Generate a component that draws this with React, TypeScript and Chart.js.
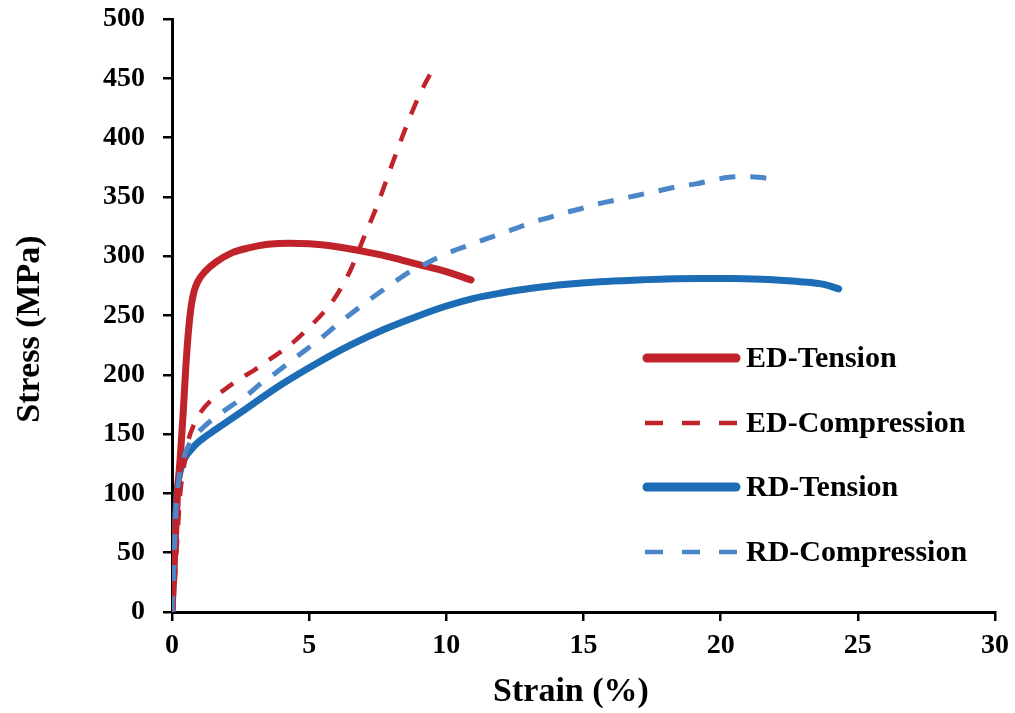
import React, { useEffect, useRef } from 'react';
import { Chart, registerables } from 'chart.js';

Chart.register(...registerables);

const seriesLabels = ['ED-Tension', 'ED-Compression', 'RD-Tension', 'RD-Compression'];

const edTensionStrain = [0, 0.1, 0.2, 0.3, 0.4, 0.5, 0.6, 0.7, 0.8, 0.95, 1.2, 1.6, 2.2, 2.8, 3.5, 4.3, 5.0, 5.7, 6.4, 7.2, 8.0, 8.9, 10.0, 10.9];
const edTensionStress = [0, 50, 100, 130, 165, 205, 237, 258, 270, 279, 287, 295, 303, 307, 310, 311, 310.5, 309, 306.5, 303, 299, 293.5, 287, 280];

const edCompStrain = [0, 0.1, 0.2, 0.3, 0.45, 0.6, 0.8, 1.0, 1.5, 2.0, 2.5, 3.0, 3.5, 4.0, 4.5, 5.0, 5.5, 6.0, 6.5, 7.0, 7.5, 8.0, 8.5, 9.0, 9.56];
const edCompStress = [0, 25, 65, 100, 125, 145, 158, 167, 180, 189, 197, 204, 212, 220, 229, 240, 252, 267, 288, 316, 344, 376, 407, 435, 460];

const rdTensionStrain = [0, 0.05, 0.1, 0.15, 0.2, 0.3, 0.45, 0.7, 1.0, 1.6, 2.2, 2.8, 4.0, 5.3, 6.5, 7.7, 8.9, 10.0, 11.0, 12.0, 13.1, 14.5, 15.6, 17.0, 18.0, 19.2, 20.4, 21.5, 22.9, 23.8, 24.3];
const rdTensionStress = [0, 30, 60, 88, 105, 119, 129, 137, 144, 154, 163.5, 173, 192, 210, 225, 238, 249, 258, 264.5, 269, 273, 276.5, 278.5, 280, 280.8, 281.2, 281.2, 280.5, 278.5, 276, 272.5];

const rdCompStrain = [0, 0.05, 0.1, 0.15, 0.25, 0.4, 0.6, 0.9, 1.2, 1.8, 2.3, 2.8, 3.2, 3.8, 4.2, 4.7, 5.1, 5.7, 6.0, 6.5, 7.0, 7.6, 8.1, 8.6, 9.2, 9.7, 10.2, 10.8, 11.5, 12.0, 12.6, 13.2, 13.8, 14.4, 14.9, 15.5, 16.1, 16.7, 17.3, 17.9, 18.5, 19.1, 19.7, 20.3, 20.9, 21.4, 21.9];
const rdCompStress = [0, 30, 60, 88, 112, 128, 140, 150, 157, 168, 176, 184, 192, 202, 209, 218, 225, 236, 242, 251, 260, 270, 278, 286, 293, 299, 304, 309, 315, 319, 324, 329, 333, 337, 340, 344, 347, 350, 353, 356, 359, 361, 364, 366.5, 367, 366.5, 365];

const xTicksMin = 0;
const xTicksMax = 30;
const xTickStep = 5;
const yTicksMin = 0;
const yTicksMax = 500;
const yTickStep = 50;

const xTitle = 'Strain (%)';
const yTitle = 'Stress (MPa)';

const toPoints = (xs: number[], ys: number[]) => xs.map((x, i) => ({ x, y: ys[i] }));

const FONT = '"Liberation Serif", "Times New Roman", serif';

const legendPlugin = {
  id: 'customLegend',
  afterDraw(chart: any) {
    const ctx = chart.ctx;
    const rows = [358, 423, 487, 552];
    const x0 = 647;
    const x1 = 736;
    ctx.save();
    chart.data.datasets.forEach((ds: any, i: number) => {
      const y = rows[i];
      ctx.beginPath();
      ctx.strokeStyle = ds.borderColor;
      const dashed = ds.borderDash && ds.borderDash.length;
      ctx.lineWidth = dashed ? 4.5 : 9;
      ctx.lineCap = dashed ? 'butt' : 'round';
      ctx.setLineDash(dashed ? [18, 19] : []);
      ctx.moveTo(x0 - (dashed ? 2 : 0), y);
      ctx.lineTo(x1 + (dashed ? 2 : 0), y);
      ctx.stroke();
      ctx.setLineDash([]);
      ctx.fillStyle = '#000';
      ctx.font = `bold 30px ${FONT}`;
      ctx.textAlign = 'left';
      ctx.textBaseline = 'middle';
      ctx.fillText(ds.label, 746, y + 1);
    });
    ctx.restore();
  },
};

const titlesPlugin = {
  id: 'axisTitles',
  afterDraw(chart: any) {
    const ctx = chart.ctx;
    ctx.save();
    ctx.fillStyle = '#000';
    ctx.font = `bold 34px ${FONT}`;
    ctx.textAlign = 'center';
    ctx.textBaseline = 'middle';
    ctx.fillText(xTitle, 571, 692);
    ctx.translate(30, 329);
    ctx.rotate(-Math.PI / 2);
    ctx.fillText(yTitle, 0, 0);
    ctx.restore();
  },
};

export default function App() {
  const canvasRef = useRef<HTMLCanvasElement | null>(null);

  useEffect(() => {
    if (!canvasRef.current) return;
    const tickFont = { family: FONT, size: 28, weight: 'bold' as const };
    const chart = new Chart(canvasRef.current, {
      type: 'line',
      data: {
        datasets: [
          {
            label: seriesLabels[0],
            data: toPoints(edTensionStrain, edTensionStress),
            borderColor: '#C1232B',
            borderWidth: 7,
            borderCapStyle: 'round',
            pointRadius: 0,
            cubicInterpolationMode: 'monotone',
            order: 2,
          },
          {
            label: seriesLabels[1],
            data: toPoints(edCompStrain, edCompStress),
            borderColor: '#C1232B',
            borderWidth: 4.5,
            borderDash: [15, 14],
            pointRadius: 0,
            cubicInterpolationMode: 'monotone',
            order: 1,
          },
          {
            label: seriesLabels[2],
            data: toPoints(rdTensionStrain, rdTensionStress),
            borderColor: '#1C6DB6',
            borderWidth: 7,
            borderCapStyle: 'round',
            pointRadius: 0,
            cubicInterpolationMode: 'monotone',
            order: 3,
          },
          {
            label: seriesLabels[3],
            data: toPoints(rdCompStrain, rdCompStress),
            borderColor: '#4A86C8',
            borderWidth: 5,
            borderDash: [16, 15],
            pointRadius: 0,
            cubicInterpolationMode: 'monotone',
            order: 0,
          },
        ],
      },
      options: {
        animation: false,
        responsive: false,
        devicePixelRatio: 1,
        layout: { padding: { top: 19, right: 20, left: 0, bottom: 0 } },
        plugins: {
          legend: { display: false },
          tooltip: { enabled: false },
          title: { display: false },
        },
        scales: {
          x: {
            type: 'linear',
            min: xTicksMin,
            max: xTicksMax,
            ticks: { stepSize: xTickStep, color: '#000', font: tickFont, padding: 8, maxRotation: 0 },
            grid: { display: true, drawOnChartArea: false, drawTicks: true, tickLength: 9, color: '#000', lineWidth: 2.5 },
            border: { display: true, color: '#000', width: 3 },
            afterFit: (scale: any) => {
              scale.height = 101;
              scale.paddingLeft = 0;
              scale.paddingRight = 0;
            },
          },
          y: {
            type: 'linear',
            min: yTicksMin,
            max: yTicksMax,
            ticks: { stepSize: yTickStep, color: '#000', font: tickFont, padding: 18 },
            grid: { display: true, drawOnChartArea: false, drawTicks: true, tickLength: 9, color: '#000', lineWidth: 2.5 },
            border: { display: true, color: '#000', width: 3 },
            afterFit: (scale: any) => {
              scale.width = 172;
              scale.paddingTop = 0;
              scale.paddingBottom = 0;
            },
          },
        },
      },
      plugins: [legendPlugin, titlesPlugin],
    } as any);
    return () => chart.destroy();
  }, []);

  return (
    <canvas
      ref={canvasRef}
      width={1015}
      height={713}
      style={{ position: 'absolute', left: 0, top: 0, width: 1015, height: 713, display: 'block' }}
    />
  );
}
